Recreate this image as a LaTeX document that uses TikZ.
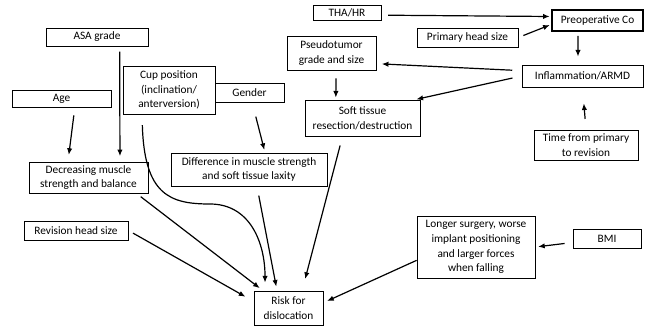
\documentclass[tikz,border=0pt]{standalone}
\usepackage{fontspec}
\setmainfont{Carlito}
\usetikzlibrary{arrows.meta}

\tikzset{
  box/.style={draw, line width=0.6pt, align=center, inner sep=1pt, font=\fontsize{8.5}{11}\selectfont},
  arr/.style={line width=0.9pt, -{Latex[length=5pt,width=4pt]}}
}

\begin{document}
\begin{tikzpicture}[x=0.75pt,y=0.75pt,yscale=-1,xscale=1]
\useasboundingbox (0,0) rectangle (646,329);

% Text Node
\node [box, minimum width=76.5pt, minimum height=13.5pt] (asa) at (97,37) {ASA grade};
% Text Node
\node [box, minimum width=74.3pt, minimum height=12.8pt] (age) at (61.5,98.5) {Age};
% Text Node
\node [box, minimum width=69pt, minimum height=36pt] (cup) at (169,90) {Cup position\\(inclination/\\anterversion)};
% Text Node
\node [box, minimum width=51.8pt, minimum height=14.3pt] (gender) at (249.5,92.5) {Gender};
% Text Node
\node [box, minimum width=89.3pt, minimum height=23.3pt] (dec) at (88.5,177.5) {Decreasing muscle\\strength and balance};
% Text Node
\node [box, minimum width=117pt, minimum height=24.8pt] (diff) at (249,169.5) {Difference in muscle strength\\and soft tissue laxity};
% Text Node
\node [box, minimum width=78pt, minimum height=14.3pt] (rev) at (76,230.5) {Revision head size};
% Text Node
\node [box, minimum width=51.8pt, minimum height=25.5pt] (risk) at (288.5,308) {Risk for\\dislocation};
% Text Node
\node [box, minimum width=51pt, minimum height=11.3pt] (tha) at (347,12.5) {THA/HR};
% Text Node
\node [box, line width=1.4pt, minimum width=68.3pt, minimum height=15.8pt] (pre) at (597.5,20.5) {Preoperative Co};
% Text Node
\node [box, minimum width=75.8pt, minimum height=14.3pt] (prim) at (467.5,37.5) {Primary head size};
% Text Node
\node [box, minimum width=66.8pt, minimum height=25.5pt] (pseudo) at (331.5,53) {Pseudotumor\\grade and size};
% Text Node
\node [box, minimum width=90.8pt, minimum height=16.5pt] (infl) at (582.5,76) {Inflammation/ARMD};
% Text Node
\node [box, minimum width=86.3pt, minimum height=27pt] (soft) at (362.5,118) {Soft tissue\\resection/destruction};
% Text Node
\node [box, minimum width=78pt, minimum height=22.5pt] (time) at (586,145) {Time from primary\\to revision};
% Text Node
\node [box, minimum width=88.5pt, minimum height=46.5pt] (longer) at (476,247) {Longer surgery, worse\\implant positioning\\and larger forces\\when falling};
% Text Node
\node [box, minimum width=51pt, minimum height=14.3pt] (bmi) at (607,238.5) {BMI};

%Straight Lines
\draw [arr, shorten <=5pt, shorten >=1pt] ([yshift=2pt]tha.east) -- ([yshift=-3pt]pre.west);
\draw [arr, shorten <=4pt, shorten >=1pt] (prim.east) -- ([yshift=3pt]pre.west);
\draw [arr, shorten <=3pt, shorten >=6pt] ([xshift=-14.6pt]pre.south) -- ([xshift=-3.4pt]infl.north);
\draw [arr, shorten <=7pt, shorten >=4pt] ([yshift=-4pt]infl.west) -- ([yshift=8pt]pseudo.east);
\draw [arr, shorten <=7pt, shorten >=1pt] (infl.west) -- ([xshift=-4pt]soft.north east);
\draw [arr, shorten <=8pt, shorten >=12pt] (time.north) -- (infl.south);
\draw [arr, shorten <=6pt, shorten >=1.5pt] ([xshift=3.4pt]pseudo.south) -- ([xshift=-20pt]soft.north);
\draw [arr, shorten <=4pt, shorten >=4pt] ([xshift=17pt]asa.south) -- ([xshift=23.6pt]dec.north);
\draw [arr, shorten <=6pt, shorten >=5pt] ([xshift=10pt]age.south) -- ([xshift=-15.4pt]dec.north);
\draw [arr, shorten <=11pt, shorten >=2pt] ([xshift=2pt]gender.south) -- ([xshift=12pt]diff.north);
%Curve Lines
\coordinate (bend) at (210,204);
\draw [arr] ([xshift=-20pt,yshift=8pt]cup.south) .. controls +(2,70) and +(-40,0) .. (bend) .. controls +(40,0) and +(0,-40) .. ([xshift=-17.6pt,yshift=-6pt]risk.north);
%Straight Lines
\draw [arr, shorten <=4pt, shorten >=3pt] ([xshift=36pt]dec.south) -- ([xshift=7pt]risk.north west);
\draw [arr, shorten <=7pt, shorten >=3pt] ([xshift=6pt]diff.south) -- ([xshift=-8.6pt]risk.north);
\draw [arr, shorten <=7pt, shorten >=9pt] ([xshift=-15pt]soft.south) -- ([xshift=-16pt]risk.north east);
\draw [arr, shorten <=4pt, shorten >=7pt] (rev.east) -- ([yshift=-5pt]risk.west);
\draw [arr, shorten >=3pt] ([yshift=10pt]longer.west) -- ([yshift=-4pt]risk.east);
\draw [arr, shorten <=6pt, shorten >=2pt] ([yshift=3pt]bmi.west) -- (longer.east);

\end{tikzpicture}
\end{document}
